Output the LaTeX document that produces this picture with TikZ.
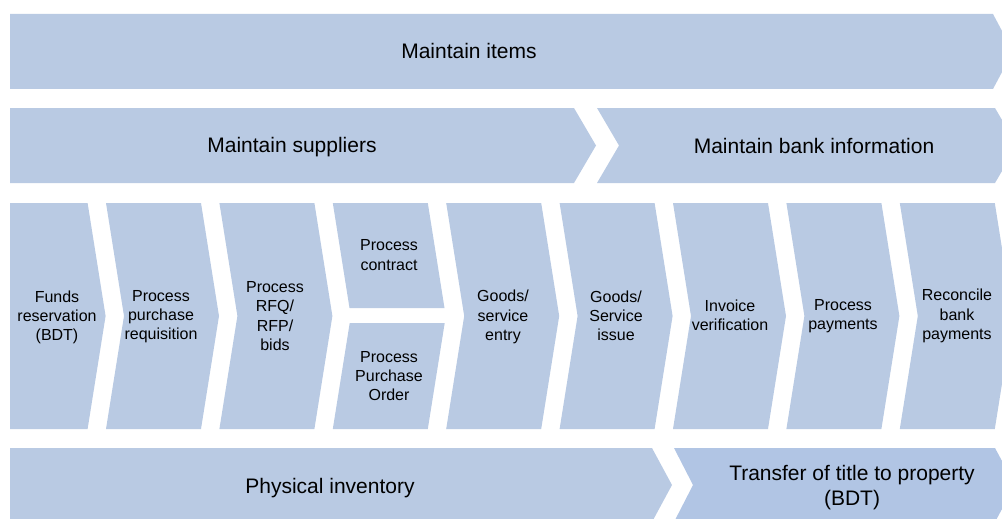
\documentclass[tikz,border=0pt]{standalone}
\usepackage{fontspec}
\setmainfont{Liberation Sans}

\definecolor{chevfill}{HTML}{B9CAE3}
\definecolor{titlefill}{HTML}{B1C5E4}

\tikzset{
  chev/.style={fill=chevfill, draw=none},
  bigtxt/.style={align=center, inner sep=0pt, font=\fontsize{21}{25}\selectfont},
  smalltxt/.style={align=center, inner sep=0pt, font=\fontsize{16}{19.2}\selectfont},
}

\begin{document}
\begin{tikzpicture}[x=1pt, y=-1pt]

\path[use as bounding box] (0,0) rectangle (1002,519);
\clip (0,0) rectangle (1002,519);

% top bands
\fill[chev] (10,14) -- (993,14) -- (1013,51.5) -- (993,89) -- (10,89) -- cycle;
\node[bigtxt] (items) at (469,51) {Maintain items};

\fill[chev] (10,108) -- (574,108) -- (596,145.5) -- (574,183) -- (10,183) -- cycle;
\node[bigtxt] (suppliers) at (292,147.5) {Maintain suppliers};

\fill[chev] (597,108) -- (995,108) -- (1017,145.5) -- (995,183) -- (597,183) -- (619,145.5) -- cycle;
\node[bigtxt] (bank) at (814,146) {Maintain bank information};

% process steps, y 203..429, tip depth 18
\fill[chev] (10,203) -- (87.6,203) -- (105.6,316) -- (87.6,429) -- (10,429) -- cycle;
\node[smalltxt] (funds) at (57,317.5) {Funds\\reservation\\(BDT)};

\fill[chev] (106,203) -- (201,203) -- (219,316) -- (201,429) -- (106,429) -- (124,316) -- cycle;
\node[smalltxt] (requisition) at (161,316.5) {Process\\purchase\\requisition};

\fill[chev] (219.4,203) -- (314.4,203) -- (332.4,316) -- (314.4,429) -- (219.4,429) -- (237.4,316) -- cycle;
\node[smalltxt] (rfq) at (275,316) {Process\\RFQ/\\RFP/\\bids};

% split step
\fill[chev] (332.8,203) -- (427.8,203) -- (444.5,308) -- (349.5,308) -- cycle;
\node[smalltxt] (contract) at (389,255) {Process\\contract};
\fill[chev] (349.7,323) -- (444.7,323) -- (427.8,429) -- (332.8,429) -- cycle;
\node[smalltxt] (order) at (389,376) {Process\\Purchase\\Order};

\fill[chev] (446.2,203) -- (541.2,203) -- (559.2,316) -- (541.2,429) -- (446.2,429) -- (464.2,316) -- cycle;
\node[smalltxt] (entry) at (503,317) {Goods/\\service\\entry};

\fill[chev] (559.6,203) -- (654.6,203) -- (672.6,316) -- (654.6,429) -- (559.6,429) -- (577.6,316) -- cycle;
\node[smalltxt] (issue) at (616,316) {Goods/\\Service\\issue};

\fill[chev] (673,203) -- (768,203) -- (786,316) -- (768,429) -- (673,429) -- (691,316) -- cycle;
\node[smalltxt] (invoice) at (730,315.5) {Invoice\\verification};

\fill[chev] (786.4,203) -- (881.4,203) -- (899.4,316) -- (881.4,429) -- (786.4,429) -- (804.4,316) -- cycle;
\node[smalltxt] (payments) at (843,316) {Process\\payments};

\fill[chev] (899.8,203) -- (994.8,203) -- (1012.8,316) -- (994.8,429) -- (899.8,429) -- (917.8,316) -- cycle;
\node[smalltxt] (reconcile) at (957,316) {Reconcile\\bank\\payments};

% bottom bands
\fill[chev] (10,448) -- (652,448) -- (672,485) -- (652,522) -- (10,522) -- cycle;
\node[bigtxt] (inventory) at (330,488) {Physical inventory};

\fill[fill=titlefill] (674,448) -- (995,448) -- (1015,485) -- (995,522) -- (674,522) -- (693,485) -- cycle;
\node[bigtxt] (title) at (852,487.5) {Transfer of title to property\\(BDT)};

\end{tikzpicture}
\end{document}
